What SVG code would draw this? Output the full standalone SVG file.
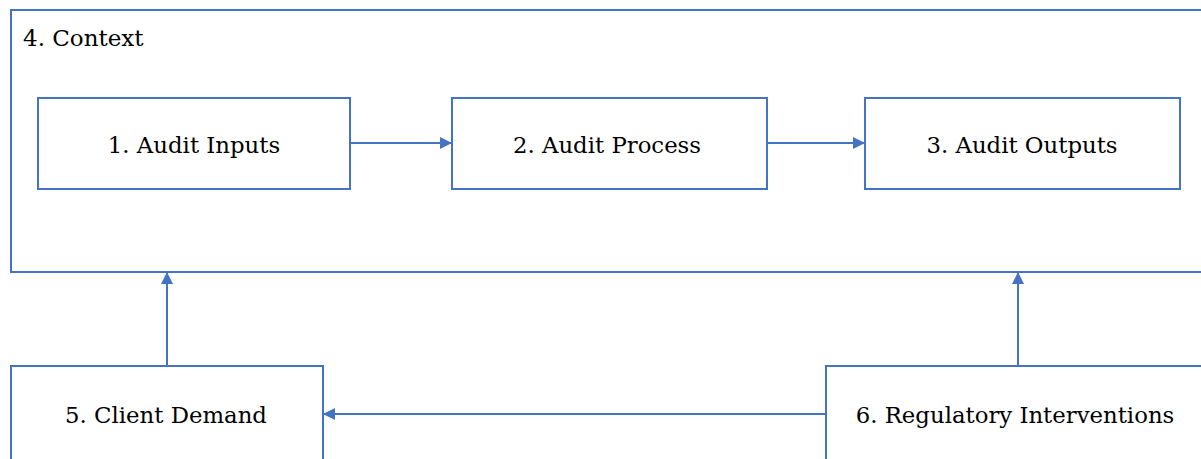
<svg xmlns="http://www.w3.org/2000/svg" width="1201" height="459" viewBox="0 0 1201 459">
<defs>
<style>
.box{fill:#ffffff;stroke:#4472C4;stroke-width:2}
.t{font-family:'DejaVu Serif',serif;font-size:22.8px;fill:#000000}
.ctx{font-size:23px}
.mid{text-anchor:middle}
.conn{fill:none;stroke:#4472C4;stroke-width:2}
</style>
<marker id="arr" viewBox="0 0 12 12" refX="12" refY="6" markerWidth="12" markerHeight="12" markerUnits="userSpaceOnUse" orient="auto">
<path d="M0,0 L12,6 L0,12 Z" fill="#4472C4"/>
</marker>
</defs>
<rect width="1201" height="459" fill="#ffffff"/>
<g id="context">
<rect class="box" x="11" y="10" width="1210" height="262"/>
<text class="t ctx" x="23" y="46">4. Context</text>
</g>
<g id="audit-inputs">
<rect class="box" x="38" y="98" width="312" height="91"/>
<text class="t mid" x="194" y="153">1. Audit Inputs</text>
</g>
<g id="audit-process">
<rect class="box" x="452" y="98" width="315" height="91"/>
<text class="t mid" x="607" y="153">2. Audit Process</text>
</g>
<g id="audit-outputs">
<rect class="box" x="865" y="98" width="315" height="91"/>
<text class="t mid" x="1022" y="153">3. Audit Outputs</text>
</g>
<g id="client-demand">
<rect class="box" x="11" y="366" width="312" height="110"/>
<text class="t mid" x="166" y="423">5. Client Demand</text>
</g>
<g id="regulatory-interventions">
<rect class="box" x="826" y="366" width="390" height="110"/>
<text class="t mid" x="1015" y="423">6. Regulatory Interventions</text>
</g>
<g id="connectors">
<line class="conn" x1="350" y1="143" x2="452" y2="143" marker-end="url(#arr)"/>
<line class="conn" x1="767" y1="143" x2="865" y2="143" marker-end="url(#arr)"/>
<line class="conn" x1="167" y1="366" x2="167" y2="272" marker-end="url(#arr)"/>
<line class="conn" x1="1018" y1="366" x2="1018" y2="272" marker-end="url(#arr)"/>
<line class="conn" x1="826" y1="414" x2="323" y2="414" marker-end="url(#arr)"/>
</g>
</svg>
